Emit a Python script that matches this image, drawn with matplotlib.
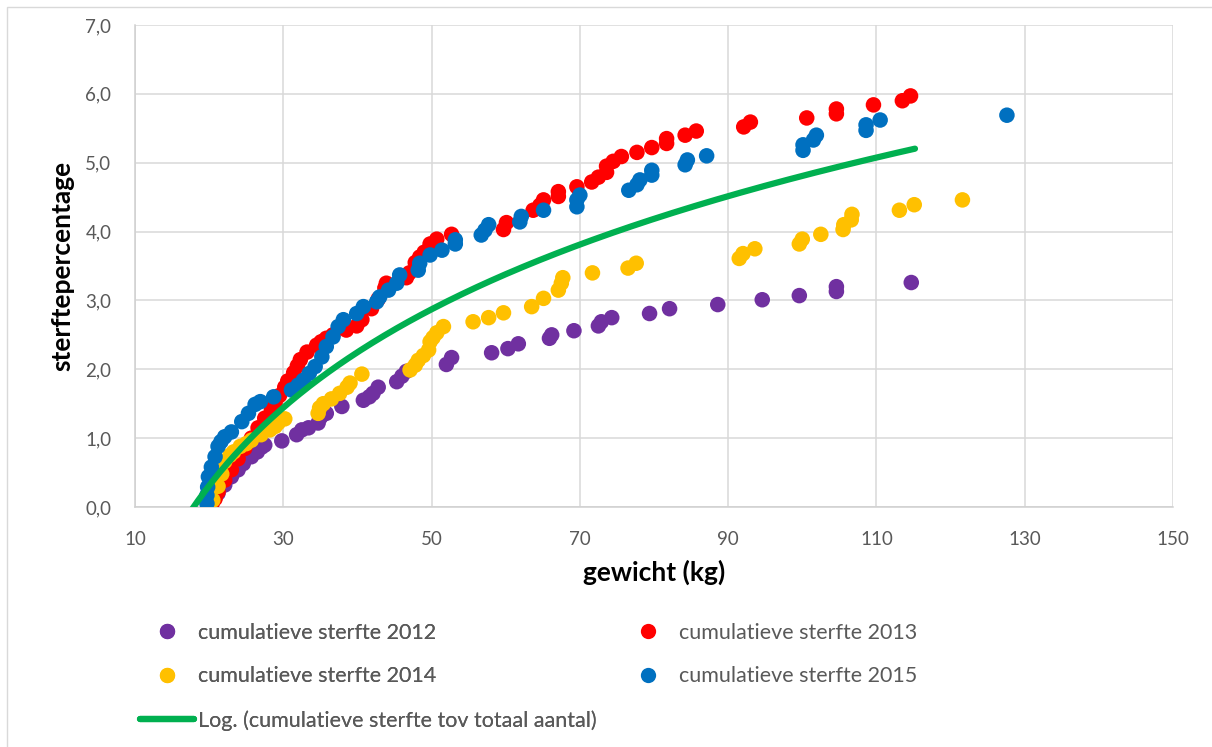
import numpy as np
import matplotlib
matplotlib.use('Agg')
import matplotlib.pyplot as plt
from matplotlib.ticker import FuncFormatter
from matplotlib.patches import Rectangle
from matplotlib.lines import Line2D

plt.rcParams['font.family'] = ['Lato', 'DejaVu Sans']

# gewicht (kg) / sterftepercentage per jaar
x2012 = [20.3, 21.2, 22.1, 23.0, 23.9, 24.6, 25.7, 26.5, 27.1, 27.5, 29.8, 31.8, 32.5, 33.4, 34.7,
         35.0, 35.8, 37.9, 40.8, 41.6, 42.1, 42.8, 45.3, 46.0, 46.6, 52.0, 52.7, 58.1, 60.3, 61.7,
         65.9, 66.2, 69.2, 72.5, 72.9, 74.3, 79.4, 82.1, 88.6, 94.6, 99.6, 104.6, 104.6, 114.7]
y2012 = [0.06, 0.20, 0.32, 0.44, 0.54, 0.63, 0.73, 0.80, 0.87, 0.90, 0.96, 1.05, 1.12, 1.15, 1.22,
         1.30, 1.36, 1.46, 1.55, 1.60, 1.65, 1.74, 1.82, 1.90, 1.97, 2.07, 2.17, 2.24, 2.30, 2.37,
         2.45, 2.50, 2.56, 2.63, 2.69, 2.75, 2.81, 2.88, 2.94, 3.01, 3.07, 3.13, 3.20, 3.26]

x2013 = [20.4, 20.8, 21.2, 22.1, 23.0, 23.9, 24.8, 25.7, 26.6, 27.5, 28.4, 28.9, 29.5, 30.2, 30.6,
         31.4, 31.9, 32.3, 33.2, 34.5, 35.1, 35.8, 36.7, 38.5, 39.9, 40.6, 41.9, 42.8, 43.7, 43.9,
         46.6, 47.0, 47.8, 48.4, 49.0, 49.8, 50.7, 52.7, 59.7, 60.1, 63.7, 64.6, 65.1, 67.1, 67.1,
         69.6, 71.6, 72.5, 73.6, 73.6, 74.5, 75.6, 77.7, 79.7, 81.7, 81.7, 84.2, 85.7, 92.1, 93.0,
         100.6, 104.6, 104.6, 109.6, 113.5, 114.6]
y2013 = [0.05, 0.12, 0.22, 0.39, 0.54, 0.70, 0.85, 1.00, 1.15, 1.29, 1.42, 1.52, 1.62, 1.74, 1.83,
         1.95, 2.05, 2.14, 2.25, 2.35, 2.40, 2.45, 2.50, 2.57, 2.63, 2.72, 2.88, 3.02, 3.18, 3.25,
         3.33, 3.40, 3.55, 3.63, 3.70, 3.82, 3.89, 3.96, 4.03, 4.13, 4.31, 4.38, 4.46, 4.51, 4.58,
         4.65, 4.72, 4.79, 4.86, 4.95, 5.02, 5.09, 5.15, 5.22, 5.28, 5.35, 5.40, 5.46, 5.52, 5.59,
         5.65, 5.71, 5.78, 5.84, 5.90, 5.97]

x2014 = [20.5, 21.2, 21.7, 22.1, 22.8, 23.3, 24.2, 25.0, 25.7, 27.0, 28.2, 28.9, 29.3, 30.2, 34.7,
         34.9, 35.4, 36.5, 37.6, 38.6, 39.0, 40.6, 47.1, 47.8, 48.2, 48.9, 49.6, 49.8, 50.2, 50.7,
         51.6, 55.6, 57.7, 59.7, 63.5, 65.1, 67.1, 67.5, 67.7, 71.7, 76.5, 77.6, 91.5, 92.0, 93.6,
         99.6, 100.0, 102.5, 105.5, 105.6, 106.6, 106.7, 113.1, 115.1, 121.6]
y2014 = [0.10, 0.30, 0.48, 0.66, 0.75, 0.80, 0.88, 0.92, 0.97, 1.05, 1.12, 1.17, 1.22, 1.28, 1.36,
         1.44, 1.50, 1.57, 1.65, 1.74, 1.80, 1.93, 1.99, 2.06, 2.13, 2.20, 2.28, 2.40, 2.46, 2.53,
         2.62, 2.69, 2.75, 2.82, 2.91, 3.03, 3.15, 3.25, 3.33, 3.40, 3.47, 3.54, 3.61, 3.68, 3.75,
         3.82, 3.89, 3.96, 4.03, 4.10, 4.17, 4.25, 4.31, 4.39, 4.46]

x2015 = [19.7, 19.7, 19.8, 19.9, 20.3, 20.8, 21.2, 21.6, 22.1, 23.0, 24.4, 25.3, 26.2, 26.9, 28.7,
         31.1, 32.0, 32.7, 33.5, 34.3, 35.2, 35.8, 36.7, 37.4, 38.1, 39.9, 40.8, 42.6, 43.0, 44.2,
         45.3, 45.7, 48.2, 48.4, 49.8, 51.4, 53.2, 53.2, 56.7, 57.2, 57.7, 61.9, 62.1, 65.1, 69.6,
         69.6, 70.0, 76.6, 77.7, 78.1, 79.7, 79.7, 84.2, 84.5, 87.1, 100.1, 100.1, 101.5, 101.9,
         108.6, 108.6, 110.5, 127.6]
y2015 = [0.05, 0.17, 0.29, 0.44, 0.58, 0.73, 0.88, 0.95, 1.02, 1.09, 1.24, 1.36, 1.49, 1.53, 1.60,
         1.70, 1.77, 1.84, 1.94, 2.04, 2.18, 2.33, 2.47, 2.62, 2.72, 2.81, 2.91, 2.98, 3.05, 3.15,
         3.25, 3.37, 3.44, 3.54, 3.66, 3.73, 3.82, 3.88, 3.95, 4.02, 4.10, 4.14, 4.22, 4.31, 4.36,
         4.46, 4.53, 4.60, 4.68, 4.75, 4.82, 4.89, 4.97, 5.04, 5.10, 5.18, 5.26, 5.33, 5.40,
         5.47, 5.55, 5.62, 5.69]

# logaritmische trendlijn y = a*ln(x) + b
trend_a = 2.795
trend_b = -8.063
trend_xmin, trend_xmax = 17.5, 115.2

labels = ['cumulatieve sterfte 2012', 'cumulatieve sterfte 2013',
          'cumulatieve sterfte 2014', 'cumulatieve sterfte 2015']
trend_label = 'Log. (cumulatieve sterfte tov totaal aantal)'
colors = ['#7030A0', '#FF0000', '#FFC000', '#0070C0']
trend_color = '#00B050'

fig = plt.figure(figsize=(12.12, 7.47), dpi=100)
ax = fig.add_axes([135/1212, 1-507/747, (1173-135)/1212, (507-25)/747])

series = [(x2012, y2012), (x2013, y2013), (x2014, y2014), (x2015, y2015)]
for (xs, ys), c, lab in zip(series, colors, labels):
    ax.scatter(xs, ys, s=125, color=c, edgecolors='none', label=lab, zorder=3)

xt = np.linspace(trend_xmin, trend_xmax, 300)
ax.plot(xt, trend_a*np.log(xt) + trend_b, color=trend_color, lw=4.5,
        solid_capstyle='round', zorder=4, label=trend_label)

ax.set_xlim(10, 150)
ax.set_ylim(0, 7)
ax.set_xticks(np.arange(10, 151, 20))
ax.set_yticks(np.arange(0, 7.1, 1))
ax.yaxis.set_major_formatter(FuncFormatter(lambda v, p: f'{v:.1f}'.replace('.', ',')))
ax.grid(True, color='#D9D9D9', lw=1.1)
ax.set_axisbelow(True)
for s in ['top', 'right']:
    ax.spines[s].set_visible(False)
for s in ['left', 'bottom']:
    ax.spines[s].set_color('#D0D0D0')
    ax.spines[s].set_linewidth(1.1)
ax.tick_params(length=0, labelsize=13.5, labelcolor='#595959')
ax.tick_params(axis='x', pad=17)
ax.tick_params(axis='y', pad=17)
ax.set_xlabel('gewicht (kg)', fontsize=19, fontweight='bold', labelpad=9)
ax.set_ylabel('sterftepercentage', fontsize=19, fontweight='bold', labelpad=8)

def dot(c):
    return Line2D([], [], ls='none', marker='o', ms=11, mfc=c, mec='none')

trend_handle = Line2D([], [], color=trend_color, lw=4.5, solid_capstyle='round')
legkw = dict(frameon=False, fontsize=15.5, labelspacing=1.1, handlelength=2.5,
             handletextpad=0.2, borderpad=0, labelcolor='#595959', loc='upper left')
leg1 = fig.legend([dot(colors[0]), dot(colors[2]), trend_handle],
                  [labels[0], labels[2], trend_label],
                  bbox_to_anchor=(129/1212, 1-612/747), **legkw)
fig.add_artist(leg1)
fig.legend([dot(colors[1]), dot(colors[3])], [labels[1], labels[3]],
           bbox_to_anchor=(610/1212, 1-612/747), **legkw)

fig.add_artist(Rectangle((7/1212, -0.05), 1.2, 1.05 - 7/747, transform=fig.transFigure,
                         fill=False, edgecolor='#D9D9D9', lw=1.0))

fig.savefig('out.png', dpi=100)
